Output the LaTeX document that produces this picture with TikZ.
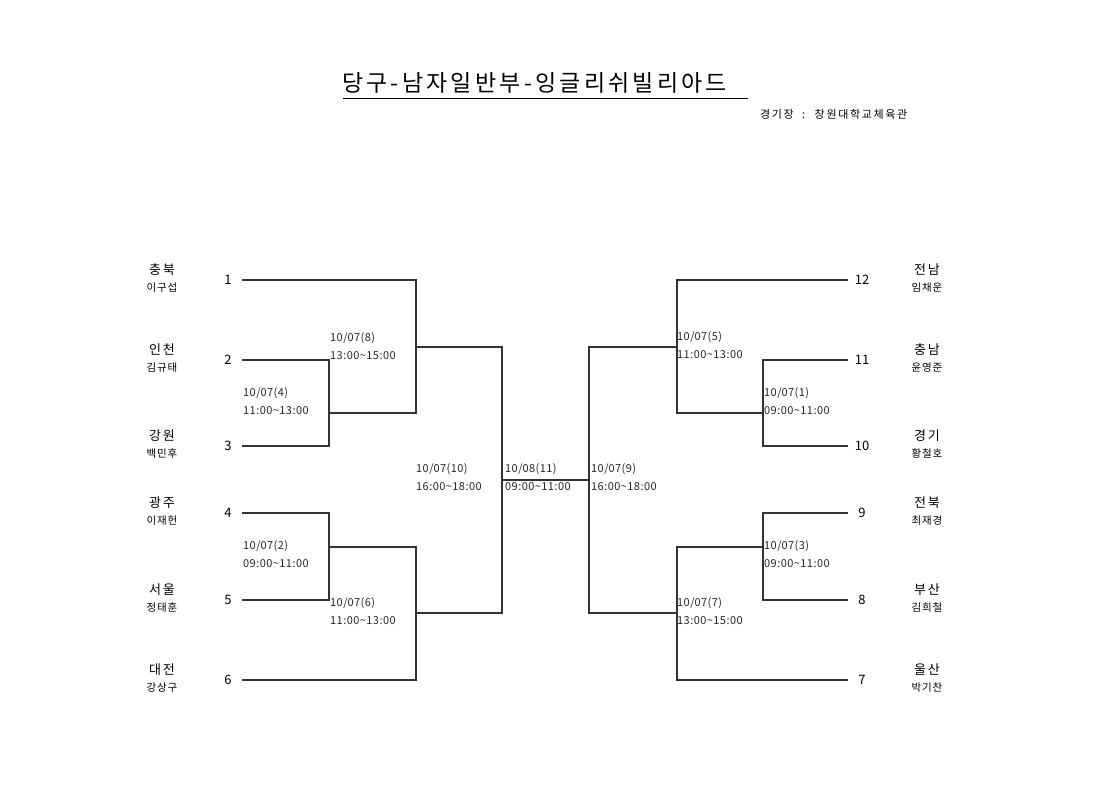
\documentclass[tikz,border=0pt]{standalone}
\usepackage{fontspec}
\setmainfont{Noto Sans CJK KR}
\begin{document}
\begin{tikzpicture}[x=1pt,y=-1pt,
  br/.style={draw=black!80,line width=1.1pt},
  seed/.style={inner sep=0pt,font=\fontsize{13}{13}\selectfont},
  team/.style={inner sep=0pt,font=\fontsize{13}{13}\selectfont\addfontfeatures{LetterSpace=14}},
  player/.style={inner sep=0pt,font=\fontsize{10.5}{11}\selectfont\addfontfeatures{LetterSpace=8}},
  lab/.style={inner sep=0pt,anchor=west,font=\fontsize{11}{11}\selectfont\addfontfeatures{LetterSpace=4},text=black!85}]
\useasboundingbox (0,0) rectangle (1120,792);
% title
\node[inner sep=0pt,anchor=west,font=\fontsize{23}{24}\selectfont\addfontfeatures{LetterSpace=14}] (title) at (342,83) {당구-남자일반부-잉글리쉬빌리아드};
\coordinate (ul1) at (343,98); \coordinate (ul2) at (748,98);
\draw[line width=0.9pt] (ul1) -- (ul2);
\node[inner sep=0pt,anchor=west,font=\fontsize{11}{11}\selectfont\addfontfeatures{LetterSpace=15}] (venue) at (760,114) {경기장 \ : \ 창원대학교체육관};
% left teams
\foreach \n/\y/\t/\p in {1/280/충북/이구섭,2/360/인천/김규태,3/446/강원/백민후,4/513/광주/이재헌,5/600/서울/정태훈,6/680/대전/강상구}{
  \node[seed] (s\n) at (228,\y) {\n};
  \node[team] (t\n) at (162,\y-10) {\t};
  \node[player] (p\n) at (162,\y+8) {\p};
  \coordinate (e\n) at (242,\y);
}
% right teams
\foreach \n/\y/\t/\p in {12/280/전남/임채운,11/360/충남/윤영준,10/446/경기/황철호,9/513/전북/최재경,8/600/부산/김희철,7/680/울산/박기찬}{
  \node[seed] (s\n) at (862,\y) {\n};
  \node[team] (t\n) at (927,\y-10) {\t};
  \node[player] (p\n) at (927,\y+8) {\p};
  \coordinate (e\n) at (848,\y);
}
% left junctions
\coordinate (a2) at (329,360); \coordinate (a3) at (329,446); \coordinate (m4) at (329,413);
\coordinate (b1) at (416,280); \coordinate (b4) at (416,413); \coordinate (m8) at (416,347);
\coordinate (a4) at (329,513); \coordinate (a5) at (329,600); \coordinate (m2) at (329,547);
\coordinate (b2) at (416,547); \coordinate (b6) at (416,680); \coordinate (m6) at (416,613);
\coordinate (c8) at (502,347); \coordinate (c6) at (502,613); \coordinate (c10) at (502,480);
% right junctions
\coordinate (a11) at (763,360); \coordinate (a10) at (763,446); \coordinate (m1) at (763,413);
\coordinate (b12) at (677,280); \coordinate (b1r) at (677,413); \coordinate (m5) at (677,347);
\coordinate (a9) at (763,513); \coordinate (a8) at (763,600); \coordinate (m3) at (763,547);
\coordinate (b3) at (677,547); \coordinate (b7) at (677,680); \coordinate (m7) at (677,613);
\coordinate (d5) at (589,347); \coordinate (d7) at (589,613); \coordinate (c9) at (589,480);
% left bracket
\draw[br] (e1) -- (b1) -- (b4) -- (m4) -- (a3);
\draw[br] (e2) -- (a2) -- (a3) -- (e3);
\draw[br] (m8) -- (c8) -- (c6) -- (m6);
\draw[br] (e4) -- (a4) -- (a5) -- (e5);
\draw[br] (m2) -- (b2) -- (b6) -- (e6);
\draw[br] (c10) -- (c9);
% right bracket
\draw[br] (e12) -- (b12) -- (b1r) -- (m1);
\draw[br] (e11) -- (a11) -- (a10) -- (e10);
\draw[br] (m5) -- (d5) -- (d7) -- (m7);
\draw[br] (e9) -- (a9) -- (a8) -- (e8);
\draw[br] (m3) -- (b3) -- (b7) -- (e7);
% labels
\foreach \nm/\x/\y/\d/\t in {L8/330/338/10\slash 07(8)/13:00\textasciitilde 15:00,
  L4/243/393/10\slash 07(4)/11:00\textasciitilde 13:00,
  L10/416/469/10\slash 07(10)/16:00\textasciitilde 18:00,
  L11/505/469/10\slash 08(11)/09:00\textasciitilde 11:00,
  L9/591/469/10\slash 07(9)/16:00\textasciitilde 18:00,
  L2/243/546/10\slash 07(2)/09:00\textasciitilde 11:00,
  L6/330/603/10\slash 07(6)/11:00\textasciitilde 13:00,
  L5/677/337/10\slash 07(5)/11:00\textasciitilde 13:00,
  L1/764/393/10\slash 07(1)/09:00\textasciitilde 11:00,
  L3/764/546/10\slash 07(3)/09:00\textasciitilde 11:00,
  L7/677/603/10\slash 07(7)/13:00\textasciitilde 15:00}{
  \node[lab] (\nm d) at (\x,\y) {\d};
  \node[lab] (\nm t) at (\x,\y+17.5) {\t};
}
\end{tikzpicture}
\end{document}
